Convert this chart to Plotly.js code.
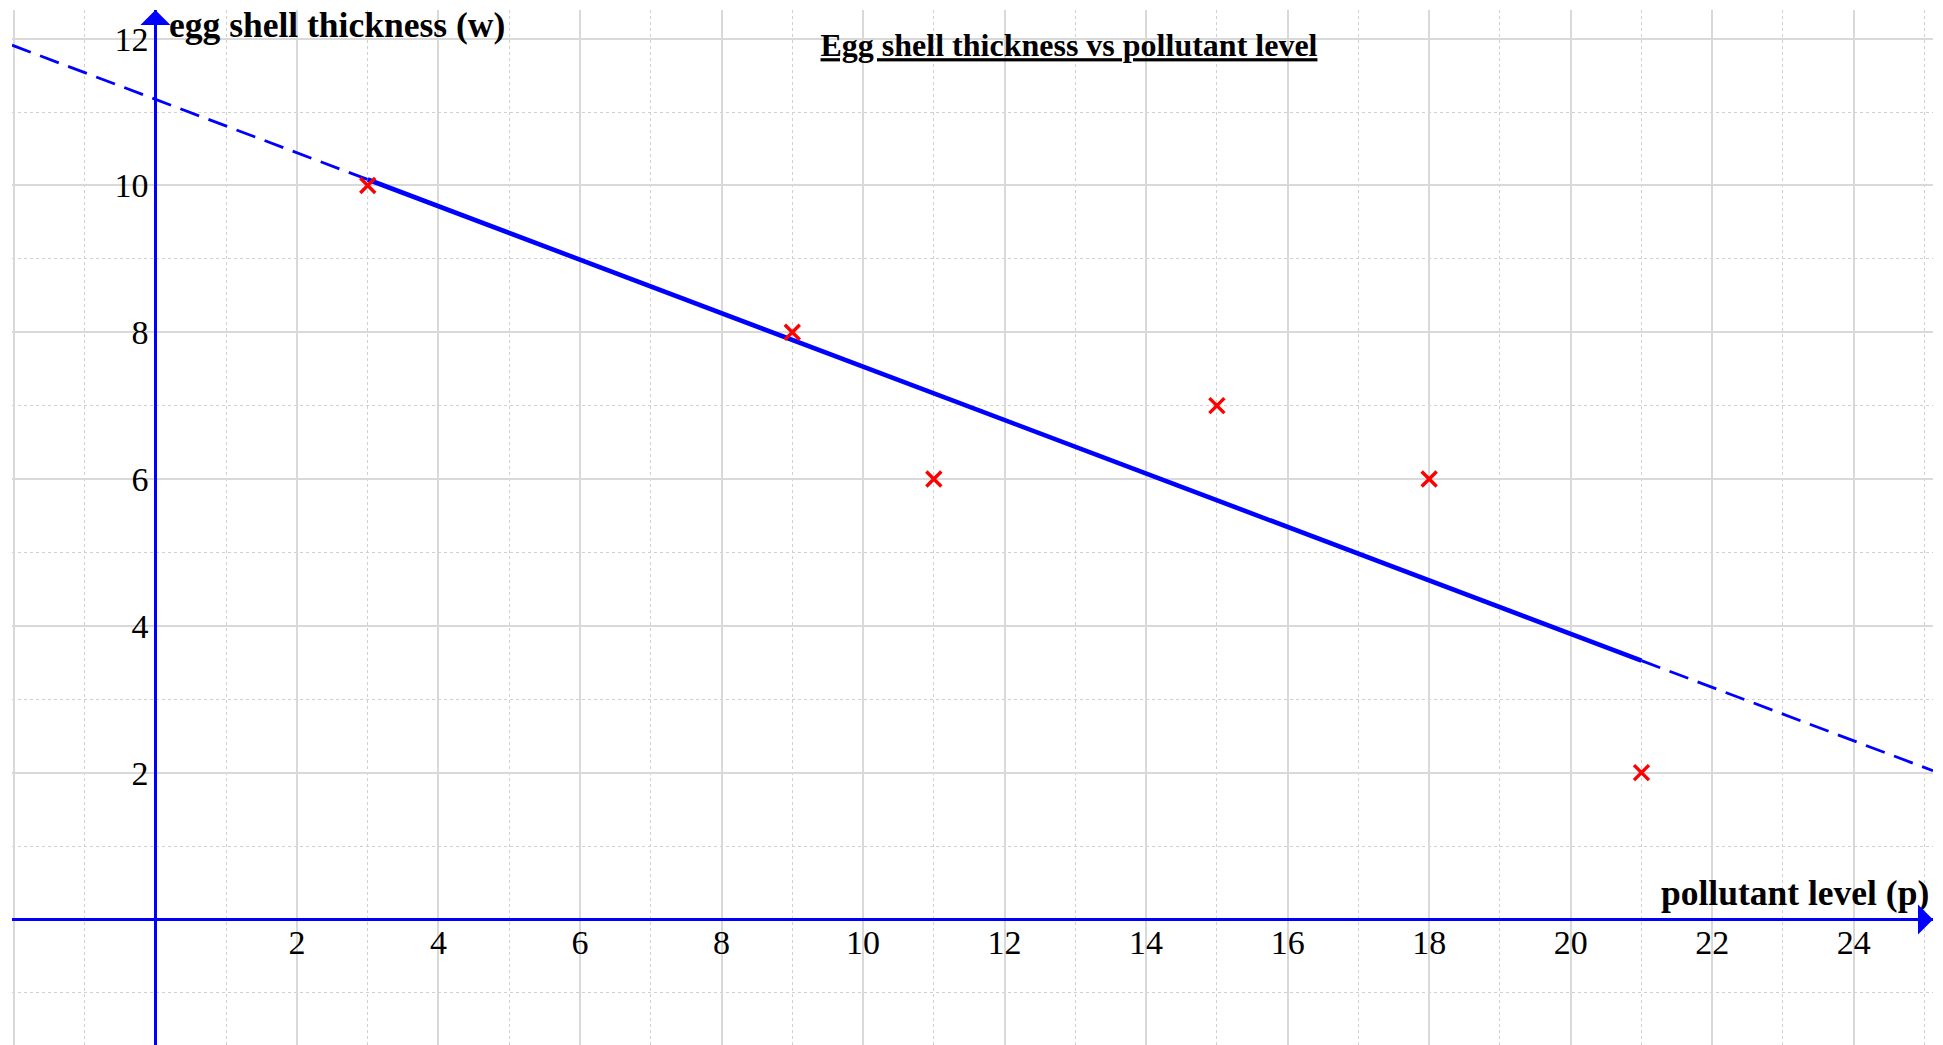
<!DOCTYPE html>
<html>
<head>
<meta charset="utf-8">
<script src="https://cdn.plot.ly/plotly-3.0.1.min.js"></script>
<style>
  html, body { margin: 0; padding: 0; background: #ffffff; }
  #chart { width: 1943px; height: 1045px; }
</style>
</head>
<body>
<div id="chart"></div>
<script>
// Observed samples: pollutant level (p) against egg shell thickness (w)
const pollutant = [3, 9, 11, 15, 18, 21];
const thickness = [10, 8, 6, 7, 6, 2];

// Axis ticks and their labels (0 and -2 carry a grid line but no label)
const xTickVals = [-2, 0, 2, 4, 6, 8, 10, 12, 14, 16, 18, 20, 22, 24];
const xTickText = ['', '', '2', '4', '6', '8', '10', '12', '14', '16', '18', '20', '22', '24'];
const yTickVals = [0, 2, 4, 6, 8, 10, 12];
const yTickText = ['', '2', '4', '6', '8', '10', '12'];

const chartTitle = 'Egg shell thickness vs pollutant level';
const xTitle = 'pollutant level (p)';
const yTitle = 'egg shell thickness (w)';

const xRange = [-2.027, 25.12];
const yRange = [-1.71, 12.39];

// Least-squares line of w on p
function leastSquares(xs, ys) {
  const n = xs.length;
  const mx = xs.reduce((a, b) => a + b, 0) / n;
  const my = ys.reduce((a, b) => a + b, 0) / n;
  let sxy = 0, sxx = 0;
  for (let i = 0; i < n; i++) {
    sxy += (xs[i] - mx) * (ys[i] - my);
    sxx += (xs[i] - mx) * (xs[i] - mx);
  }
  const slope = sxy / sxx;
  return { slope: slope, intercept: my - slope * mx };
}
const fit = leastSquares(pollutant, thickness);
const fitAt = x => fit.intercept + fit.slope * x;
const pMin = Math.min(...pollutant);
const pMax = Math.max(...pollutant);

const BLUE = '#0000ff';
const RED = '#ff0000';
const SERIF = '"Liberation Serif", "Times New Roman", serif';

const traces = [
  { // extrapolated part, left
    x: [xRange[0], pMin], y: [fitAt(xRange[0]), fitAt(pMin)],
    mode: 'lines', line: { color: BLUE, width: 2.8, dash: '20px,10px' },
    hoverinfo: 'skip', showlegend: false
  },
  { // extrapolated part, right
    x: [pMax, xRange[1]], y: [fitAt(pMax), fitAt(xRange[1])],
    mode: 'lines', line: { color: BLUE, width: 2.8, dash: '20px,10px' },
    hoverinfo: 'skip', showlegend: false
  },
  { // fitted line over the observed range
    x: [pMin, pMax], y: [fitAt(pMin), fitAt(pMax)],
    mode: 'lines', line: { color: BLUE, width: 4.6 },
    hoverinfo: 'skip', showlegend: false
  },
  { // data points
    x: pollutant, y: thickness,
    mode: 'markers',
    marker: { symbol: 'x-thin-open', size: 15, color: RED, line: { color: RED, width: 3.4 } },
    hoverinfo: 'skip', showlegend: false
  }
];

const xZeroPos = (0 - yRange[0]) / (yRange[1] - yRange[0]);
const yZeroPos = (0 - xRange[0]) / (xRange[1] - xRange[0]);

const gridMajor = '#d9d9d9';
const gridMinor = '#d0d0d0';

const layout = {
  width: 1943,
  height: 1045,
  margin: { l: 12, r: 10, t: 10, b: 0, pad: 0 },
  paper_bgcolor: '#ffffff',
  plot_bgcolor: '#ffffff',
  showlegend: false,
  hovermode: false,
  title: {
    text: chartTitle,
    x: 1069 / 1943, xanchor: 'center',
    y: 1 - 45 / 1045, yanchor: 'middle',
    font: { family: SERIF, size: 32, color: '#000000', weight: 'bold', lineposition: 'under' }
  },
  xaxis: {
    range: xRange,
    anchor: 'free', position: xZeroPos, side: 'bottom',
    tickmode: 'array', tickvals: xTickVals, ticktext: xTickText,
    ticks: '', ticklabelstandoff: 0,
    tickfont: { family: SERIF, size: 34, color: '#000000' },
    showgrid: true, gridcolor: gridMajor, gridwidth: 2,
    minor: { dtick: 1, tick0: 0, showgrid: true, gridcolor: gridMinor, gridwidth: 1, griddash: 'dot', ticks: '' },
    zeroline: true, zerolinecolor: BLUE, zerolinewidth: 2.5,
    showline: false, fixedrange: true
  },
  yaxis: {
    range: yRange,
    anchor: 'free', position: yZeroPos, side: 'left',
    tickmode: 'array', tickvals: yTickVals, ticktext: yTickText,
    ticks: '', ticklabelstandoff: 7,
    tickfont: { family: SERIF, size: 34, color: '#000000' },
    showgrid: true, gridcolor: gridMajor, gridwidth: 2,
    minor: { dtick: 1, tick0: 0, showgrid: true, gridcolor: gridMinor, gridwidth: 1, griddash: 'dot', ticks: '' },
    zeroline: true, zerolinecolor: BLUE, zerolinewidth: 2.5,
    showline: false, fixedrange: true
  },
  annotations: [
    { // vertical axis title, beside the arrow
      text: yTitle, xref: 'x', x: 0, xanchor: 'left', xshift: 12,
      yref: 'paper', y: 1, yanchor: 'middle', yshift: -15,
      showarrow: false,
      font: { family: SERIF, size: 35.5, color: '#000000', weight: 'bold' }
    },
    { // horizontal axis title, above the arrow
      text: xTitle, xref: 'paper', x: 1, xanchor: 'right', xshift: -2,
      yref: 'y', y: 0, yanchor: 'middle', yshift: 26,
      showarrow: false,
      font: { family: SERIF, size: 35.5, color: '#000000', weight: 'bold' }
    },
    { // arrowhead on the vertical axis
      text: '', xref: 'x', x: 0, yref: 'y', y: yRange[1],
      showarrow: true, ax: 0, ay: 40, arrowhead: 1, arrowsize: 2,
      arrowwidth: 2.5, arrowcolor: BLUE
    },
    { // arrowhead on the horizontal axis
      text: '', xref: 'x', x: xRange[1], yref: 'y', y: 0,
      showarrow: true, ax: -40, ay: 0, arrowhead: 1, arrowsize: 2,
      arrowwidth: 2.5, arrowcolor: BLUE
    }
  ]
};

Plotly.newPlot('chart', traces, layout, { displayModeBar: false, staticPlot: true });
</script>
</body>
</html>
